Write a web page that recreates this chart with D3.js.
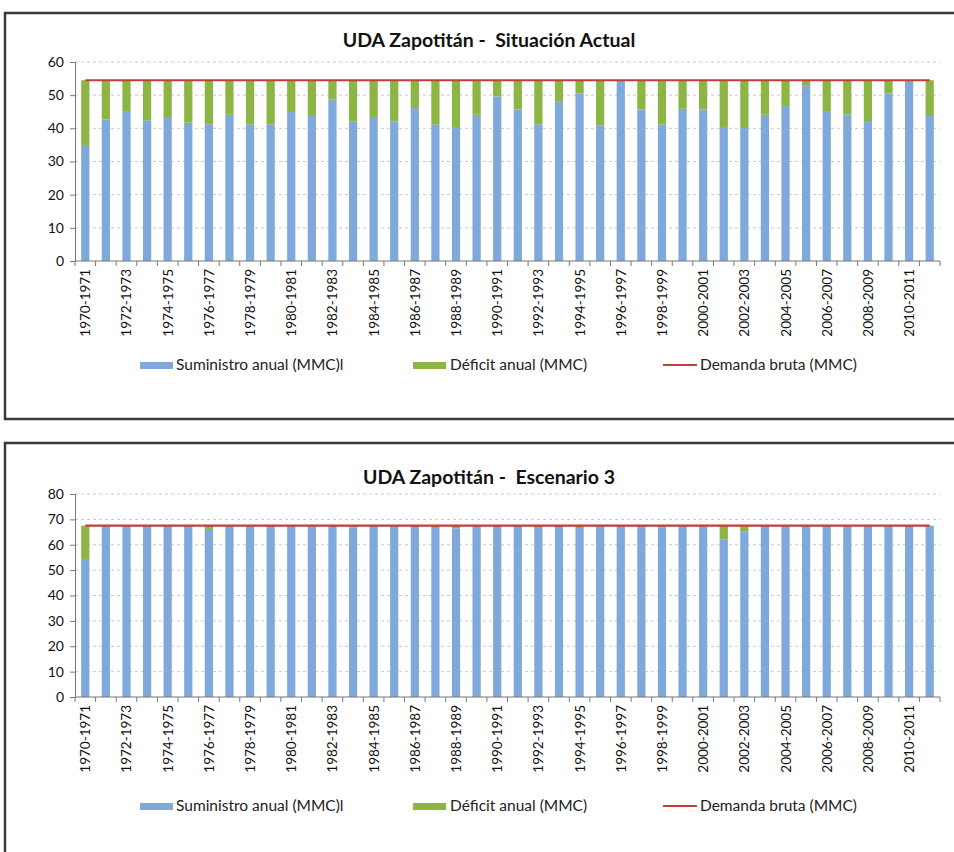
<!DOCTYPE html>
<html><head><meta charset="utf-8">
<script src="https://cdn.jsdelivr.net/npm/d3@7"></script>
<style>body{margin:0;background:#fff;}svg{display:block;font-family:Lato,"Open Sans",sans-serif;}</style>
</head><body>
<script>
const categories = ["1970-1971","1971-1972","1972-1973","1973-1974","1974-1975","1975-1976","1976-1977","1977-1978","1978-1979","1979-1980","1980-1981","1981-1982","1982-1983","1983-1984","1984-1985","1985-1986","1986-1987","1987-1988","1988-1989","1989-1990","1990-1991","1991-1992","1992-1993","1993-1994","1994-1995","1995-1996","1996-1997","1997-1998","1998-1999","1999-2000","2000-2001","2001-2002","2002-2003","2003-2004","2004-2005","2005-2006","2006-2007","2007-2008","2008-2009","2009-2010","2010-2011","2011-2012"];

const supplyActual = [34.7,42.7,45.2,42.4,43.1,41.7,41.2,44.1,41.2,41.2,44.9,43.7,48.7,42.1,43.4,42.1,46.1,41.1,40.4,44.1,49.6,45.7,41.2,48.2,50.5,40.9,54.5,45.7,41.2,45.9,45.7,40.4,40.1,44.1,46.7,52.8,45.2,44.2,42.2,50.5,54.5,43.7];
const deficitActual = [19.8,11.8,9.3,12.1,11.4,12.8,13.3,10.4,13.3,13.3,9.6,10.8,5.8,12.4,11.1,12.4,8.4,13.4,14.1,10.4,4.9,8.8,13.3,6.3,4.0,13.6,0,8.8,13.3,8.6,8.8,14.1,14.4,10.4,7.8,1.7,9.3,10.3,12.3,4.0,0,10.8];
const demandActual = [54.5,54.5,54.5,54.5,54.5,54.5,54.5,54.5,54.5,54.5,54.5,54.5,54.5,54.5,54.5,54.5,54.5,54.5,54.5,54.5,54.5,54.5,54.5,54.5,54.5,54.5,54.5,54.5,54.5,54.5,54.5,54.5,54.5,54.5,54.5,54.5,54.5,54.5,54.5,54.5,54.5,54.5];

const supplyE3 = [54.4,67.5,67.5,67.5,67.5,67.5,66.2,67.5,67.5,67.5,67.5,67.5,67.5,66.8,67.5,67.5,67.5,66.6,66.5,67.5,67.5,67.5,67.0,67.5,66.6,67.5,67.5,67.5,66.9,67.5,67.1,62.0,65.3,67.5,67.5,67.5,67.5,67.5,67.5,67.5,67.5,67.5];
const deficitE3 = [13.1,0,0,0,0,0,1.3,0,0,0,0,0,0,0.7,0,0,0,0.9,1.0,0,0,0,0.5,0,0.9,0,0,0,0.6,0,0.4,5.5,2.2,0,0,0,0,0,0,0,0,0];
const demandE3 = [67.5,67.5,67.5,67.5,67.5,67.5,67.5,67.5,67.5,67.5,67.5,67.5,67.5,67.5,67.5,67.5,67.5,67.5,67.5,67.5,67.5,67.5,67.5,67.5,67.5,67.5,67.5,67.5,67.5,67.5,67.5,67.5,67.5,67.5,67.5,67.5,67.5,67.5,67.5,67.5,67.5,67.5];

const yTicksActual = [0,10,20,30,40,50,60];
const yTicksE3 = [0,10,20,30,40,50,60,70,80];
const legendLabels = ["Suministro anual (MMC)l","Déficit anual (MMC)","Demanda bruta (MMC)"];
const titles = ["UDA Zapotitán -  Situación Actual","UDA Zapotitán -  Escenario 3"];

const C_BLUE = "#7fa9db", C_GREEN = "#8cb543", C_RED = "#c43d3b";

const svg = d3.select("body").append("svg").attr("width",954).attr("height",852);

function panel(cfg){
  const g = svg.append("g");
  g.append("rect").attr("x",cfg.frame[0]).attr("y",cfg.frame[1]).attr("width",cfg.frame[2]).attr("height",cfg.frame[3])
    .attr("fill","none").attr("stroke","#3a3a3a").attr("stroke-width",2.5);
  const x = d3.scaleBand().domain(categories).range([75,940]).paddingInner(0.6).paddingOuter(0.3);
  const y = d3.scaleLinear().domain([0,cfg.max]).range([cfg.y0,cfg.yTop]);
  g.append("text").attr("x",489).attr("y",cfg.titleY).attr("text-anchor","middle")
    .style("white-space","pre")
    .attr("font-size",19.5).attr("font-weight","bold").attr("fill","#111").text(cfg.title);
  g.append("g").selectAll("line").data(cfg.ticks.filter(t=>t>0)).join("line")
    .attr("x1",75).attr("x2",940).attr("y1",d=>y(d)).attr("y2",d=>y(d))
    .attr("stroke","#c8c8c8").attr("stroke-dasharray","3,3").attr("stroke-width",1);
  g.append("g").selectAll("rect").data(categories).join("rect")
    .attr("x",d=>x(d)).attr("width",x.bandwidth())
    .attr("y",(d,i)=>y(cfg.supply[i])).attr("height",(d,i)=>y(0)-y(cfg.supply[i])).attr("fill",C_BLUE);
  g.append("g").selectAll("rect").data(categories).join("rect")
    .attr("x",d=>x(d)).attr("width",x.bandwidth())
    .attr("y",(d,i)=>y(cfg.supply[i]+cfg.deficit[i])).attr("height",(d,i)=>y(cfg.supply[i])-y(cfg.supply[i]+cfg.deficit[i])).attr("fill",C_GREEN);
  const line = d3.line().x((d,i)=>x(categories[i])+x.bandwidth()/2).y(d=>y(d));
  g.append("path").datum(cfg.demand).attr("d",line).attr("fill","none").attr("stroke",C_RED).attr("stroke-width",2.2);
  const ya = g.append("g").attr("transform","translate(75,0)")
    .call(d3.axisLeft(y).tickValues(cfg.ticks).tickSize(5).tickPadding(6));
  ya.select(".domain").attr("stroke","#777");
  ya.selectAll(".tick line").attr("stroke","#777");
  ya.selectAll("text").attr("font-size",14).attr("fill","#111").attr("font-family","Lato,sans-serif");
  const xa = g.append("g").attr("transform",`translate(0,${cfg.y0})`)
    .call(d3.axisBottom(x).tickSize(0).tickFormat(d=>""));
  xa.select(".domain").attr("stroke","#777").attr("d",`M75,0H940`);
  const step = x.step();
  const bounds = d3.range(categories.length+1).map(i=>x(categories[0]) - (step - x.bandwidth())/2 + i*step);
  g.append("g").selectAll("line").data(bounds).join("line")
    .attr("x1",d=>d).attr("x2",d=>d).attr("y1",cfg.y0).attr("y2",cfg.y0+5).attr("stroke","#777");
  g.append("g").selectAll("text").data(categories.filter((d,i)=>i%2===0)).join("text")
    .attr("transform",d=>`translate(${x(d)+x.bandwidth()/2+5},${cfg.y0+8}) rotate(-90)`)
    .attr("text-anchor","end").attr("font-size",13.5).attr("fill","#111").text(d=>d);
  const ly = cfg.legendY;
  const lg = g.append("g");
  lg.append("rect").attr("x",140).attr("y",ly-3).attr("width",33).attr("height",7).attr("fill",C_BLUE);
  lg.append("text").attr("x",176).attr("y",ly+5).attr("font-size",15.5).attr("fill","#222").text(legendLabels[0]);
  lg.append("rect").attr("x",413).attr("y",ly-3).attr("width",33).attr("height",7).attr("fill",C_GREEN);
  lg.append("text").attr("x",450).attr("y",ly+5).attr("font-size",15.5).attr("fill","#222").text(legendLabels[1]);
  lg.append("line").attr("x1",663).attr("x2",697).attr("y1",ly).attr("y2",ly).attr("stroke",C_RED).attr("stroke-width",2);
  lg.append("text").attr("x",700).attr("y",ly+5).attr("font-size",15.5).attr("fill","#222").text(legendLabels[2]);
}

panel({frame:[5,13,960,406], title:titles[0], titleY:47, max:60, y0:261, yTop:62, ticks:yTicksActual,
  supply:supplyActual, deficit:deficitActual, demand:demandActual, legendY:365});
panel({frame:[5,443,960,420], title:titles[1], titleY:484, max:80, y0:697, yTop:494, ticks:yTicksE3,
  supply:supplyE3, deficit:deficitE3, demand:demandE3, legendY:806});
</script>
</body></html>
